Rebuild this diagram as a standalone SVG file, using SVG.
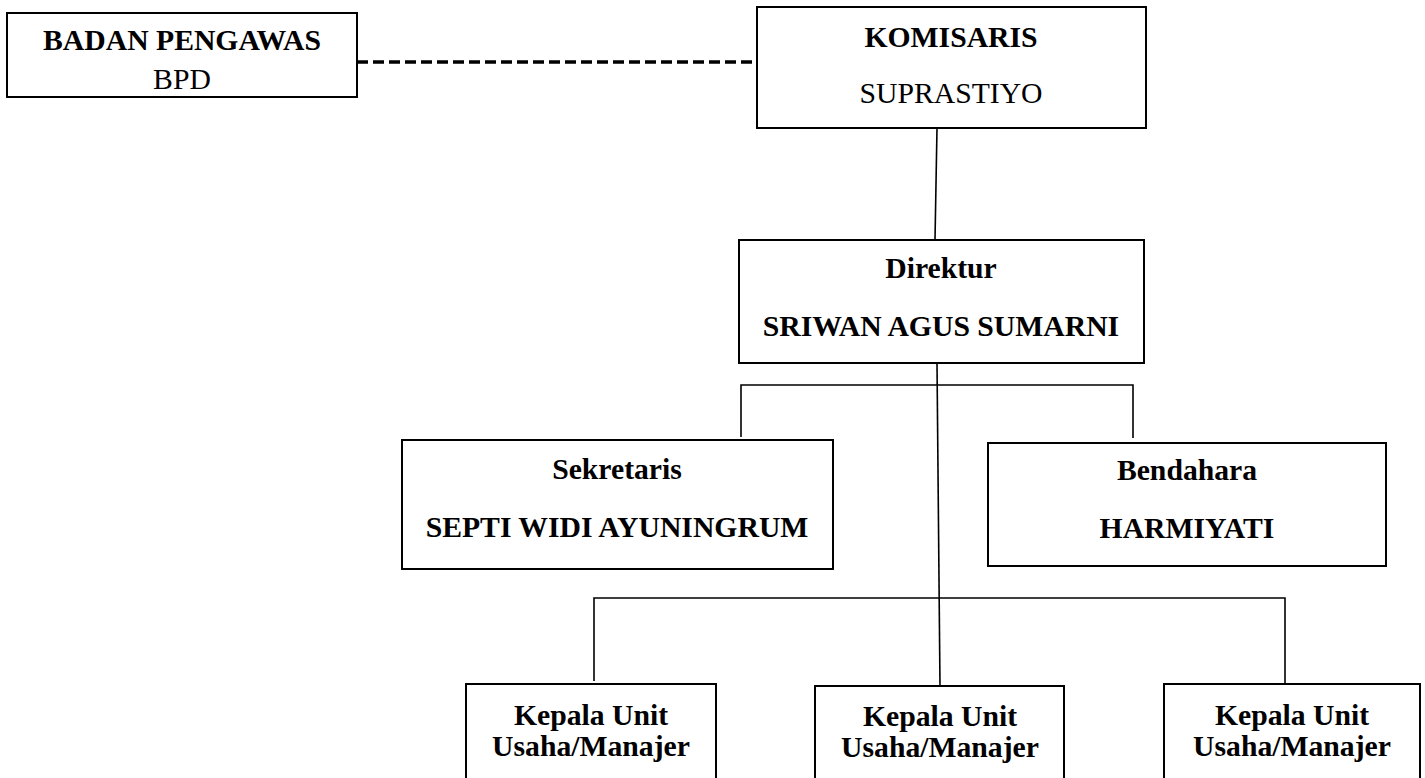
<svg xmlns="http://www.w3.org/2000/svg" width="1425" height="778" viewBox="0 0 1425 778">
<style>
.box{fill:#fff;stroke:#000;stroke-width:2}
.t{font-family:"Liberation Serif","Times New Roman",serif;font-size:29.7px;fill:#000;text-anchor:middle}
.b{font-weight:bold}
.ln{stroke:#000;stroke-width:1.6;fill:none}
.dash{stroke:#000;stroke-width:3.5;stroke-dasharray:11 5;fill:none}
</style>
<rect width="1425" height="778" fill="#fff"/>
<g id="connectors">
<line class="dash" x1="357" y1="62" x2="757" y2="62"/>
<line class="ln" x1="937" y1="128" x2="935" y2="240"/>
<line class="ln" x1="937" y1="363" x2="940" y2="687"/>
<polyline class="ln" points="741,437 741,385 1133,385 1133,438"/>
<polyline class="ln" points="594,681 594,598 1285,598 1285,684"/>
</g>
<g id="bpd">
<rect class="box" x="7" y="13" width="350" height="84"/>
<text class="t b" x="182" y="50">BADAN PENGAWAS</text>
<text class="t" x="182" y="89">BPD</text>
</g>
<g id="komisaris">
<rect class="box" x="757" y="7" width="389" height="121"/>
<text class="t b" x="951" y="47">KOMISARIS</text>
<text class="t" x="951" y="103">SUPRASTIYO</text>
</g>
<g id="direktur">
<rect class="box" x="739" y="240" width="405" height="123"/>
<text class="t b" x="941" y="278">Direktur</text>
<text class="t b" x="941" y="336">SRIWAN AGUS SUMARNI</text>
</g>
<g id="sekretaris">
<rect class="box" x="402" y="440" width="431" height="129"/>
<text class="t b" x="617" y="479">Sekretaris</text>
<text class="t b" x="617" y="537">SEPTI WIDI AYUNINGRUM</text>
</g>
<g id="bendahara">
<rect class="box" x="988" y="443" width="398" height="123"/>
<text class="t b" x="1187" y="480">Bendahara</text>
<text class="t b" x="1187" y="538">HARMIYATI</text>
</g>
<g id="kepala1">
<rect class="box" x="466" y="684" width="250" height="110"/>
<text class="t b" x="591" y="725">Kepala Unit</text>
<text class="t b" x="591" y="756">Usaha/Manajer</text>
</g>
<g id="kepala2">
<rect class="box" x="815" y="686" width="249" height="110"/>
<text class="t b" x="940" y="726">Kepala Unit</text>
<text class="t b" x="940" y="757">Usaha/Manajer</text>
</g>
<g id="kepala3">
<rect class="box" x="1164" y="684" width="256" height="110"/>
<text class="t b" x="1292" y="725">Kepala Unit</text>
<text class="t b" x="1292" y="756">Usaha/Manajer</text>
</g>
</svg>
